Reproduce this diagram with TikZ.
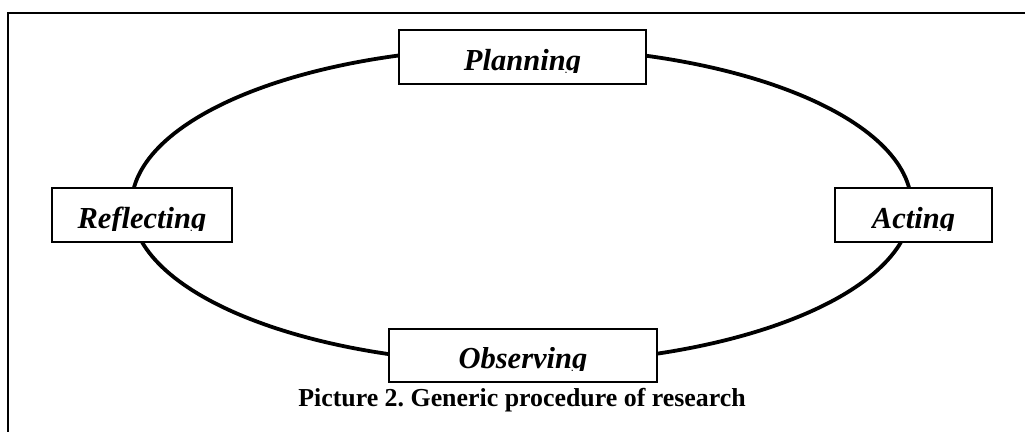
\documentclass[tikz,border=0pt]{standalone}
\usepackage{fontspec}
\setmainfont{Liberation Serif}
\usepackage{trimclip}
\frenchspacing

% the box texts lose the lower part of their descenders
\newcommand{\cutlabel}[1]{\clipbox{0pt {\depth-1.6pt} 0pt 0pt}{#1}}

\tikzset{
  stage/.style={draw, line width=1.3pt, fill=white, inner sep=0pt,
    minimum height=1.33cm, text height=20pt, text depth=1.5pt,
    font=\fontsize{21.7}{26}\selectfont\bfseries\itshape},
  caption/.style={font=\fontsize{18.4}{22}\selectfont\bfseries, anchor=base},
}

\begin{document}
\begin{tikzpicture}[x=0.025cm, y=-0.025cm]
  \useasboundingbox (0,0) rectangle (1025,432);
  % frame
  \draw[line width=1.3pt] (8,432) -- (8,13) -- (1025,13);

  % the cycle
  \coordinate (cycle) at (521.5,205.5);
  \draw[line width=2.7pt] (cycle) ellipse [x radius=390, y radius=158];

  \node[stage, minimum width=6.175cm] (plan) at (522.5,57) {\cutlabel{Planning}};
  \node[stage, minimum width=3.925cm] (act) at (913.5,215) {\cutlabel{Acting}};
  \node[stage, minimum width=6.7cm] (obs) at (523,355.5) {\cutlabel{Observing}};
  \node[stage, minimum width=4.5cm] (refl) at (142,215) {\cutlabel{Reflecting}};

  \node[caption] (cap) at (522,406) {Picture 2. Generic procedure of research};
\end{tikzpicture}
\end{document}
